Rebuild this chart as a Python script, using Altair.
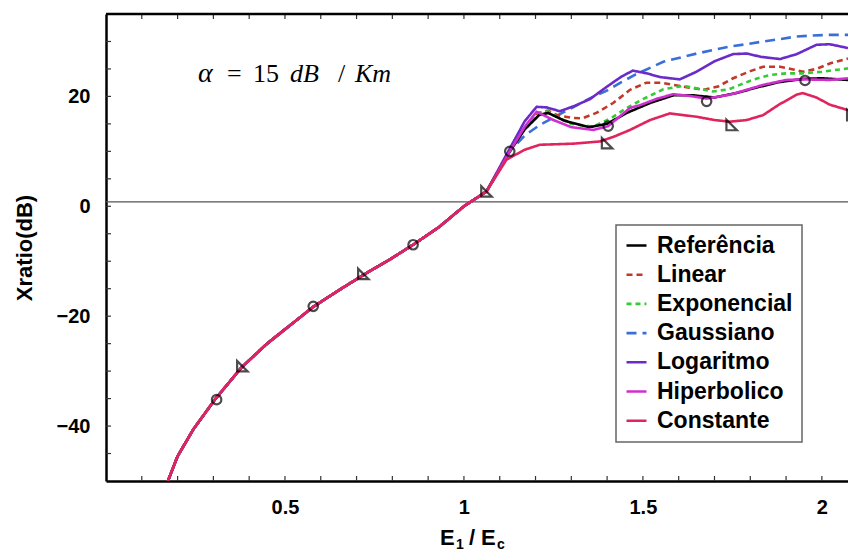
import altair as alt
import pandas as pd

# ---------------- data ----------------
series_names = ["Referência", "Linear", "Exponencial", "Gaussiano",
                "Logaritmo", "Hiperbolico", "Constante"]
series_colors = ["#000000", "#c0392b", "#33cc33", "#3a6fd8",
                 "#6a2bc8", "#d02fd0", "#e0245e"]
series_dash = [[1, 0], [6, 4], [5, 4], [10, 6], [1, 0], [1, 0], [1, 0]]
series_width = [2.6, 2.6, 2.6, 2.6, 2.6, 3.8, 2.6]

# shared lower branch (all curves coincide up to E1/Ec = 1)
common_x = [0.173, 0.2, 0.244, 0.304, 0.379, 0.45, 0.5, 0.579, 0.65,
            0.719, 0.79, 0.858, 0.93, 1.0]
common_y = [-50.0, -45.5, -40.6, -35.2, -29.3, -25.0, -22.4, -18.3, -15.3,
            -12.5, -9.8, -7.0, -3.8, 0.0]

ref_x = [1.063, 1.128, 1.17, 1.21, 1.235, 1.28, 1.35, 1.40, 1.455, 1.52,
         1.585, 1.64, 1.70, 1.76, 1.817, 1.88, 1.95, 2.0, 2.073]
ref_y = [2.7, 10.0, 14.0, 16.6, 17.0, 15.6, 14.4, 15.0, 17.0, 18.8,
         20.2, 20.2, 19.8, 20.6, 21.6, 22.6, 23.2, 23.3, 23.0]

lin_x = [1.063, 1.128, 1.17, 1.21, 1.235, 1.26, 1.30, 1.33, 1.37, 1.417,
         1.464, 1.51, 1.55, 1.585, 1.63, 1.668, 1.71, 1.752, 1.80, 1.836,
         1.883, 1.92, 1.947, 1.985, 2.022, 2.073]
lin_y = [2.7, 10.0, 14.2, 17.0, 17.4, 16.6, 16.1, 16.0, 17.0, 18.8,
         21.2, 22.5, 22.5, 22.1, 21.6, 21.2, 21.8, 23.3, 24.6, 25.4,
         25.4, 24.9, 24.5, 25.0, 26.0, 26.9]

exp_x = [1.063, 1.128, 1.17, 1.21, 1.235, 1.26, 1.30, 1.361, 1.41, 1.455,
         1.50, 1.557, 1.612, 1.65, 1.696, 1.74, 1.771, 1.81, 1.855, 1.90,
         1.947, 2.0, 2.073]
exp_y = [2.7, 10.0, 14.2, 17.0, 17.3, 16.3, 15.0, 14.5, 16.0, 17.9,
         19.5, 21.3, 21.9, 21.5, 20.9, 21.3, 22.1, 23.1, 23.9, 24.2,
         24.2, 24.5, 25.1]

gau_x = [1.063, 1.128, 1.17, 1.212, 1.26, 1.305, 1.35, 1.398, 1.44, 1.48,
         1.52, 1.557, 1.60, 1.65, 1.70, 1.743, 1.79, 1.836, 1.88, 1.929,
         1.975, 2.022, 2.073]
gau_y = [2.7, 10.0, 12.9, 14.8, 16.5, 18.0, 19.6, 21.0, 22.6, 24.0,
         25.2, 26.3, 27.0, 27.8, 28.5, 29.1, 29.5, 30.0, 30.4, 30.9,
         31.1, 31.2, 31.2]

log_x = [1.063, 1.128, 1.17, 1.203, 1.231, 1.268, 1.31, 1.352, 1.40, 1.44,
         1.472, 1.51, 1.55, 1.603, 1.65, 1.70, 1.752, 1.79, 1.83, 1.883,
         1.93, 1.985, 2.022, 2.073]
log_y = [2.7, 10.5, 15.5, 18.1, 18.0, 17.3, 18.3, 19.5, 21.8, 23.6,
         24.7, 24.2, 23.5, 23.1, 24.5, 26.4, 27.7, 27.8, 27.2, 26.8,
         27.7, 29.4, 29.5, 28.8]

hip_x = [1.063, 1.128, 1.17, 1.203, 1.25, 1.30, 1.361, 1.403, 1.464, 1.492,
         1.54, 1.585, 1.63, 1.678, 1.743, 1.80, 1.836, 1.901, 1.947, 2.022,
         2.073]
hip_y = [2.7, 10.0, 14.5, 17.2, 15.7, 14.4, 13.9, 14.6, 17.9, 18.4,
         19.6, 20.4, 20.1, 19.6, 20.3, 21.4, 22.1, 23.0, 23.1, 23.0,
         23.3]

con_x = [1.063, 1.119, 1.17, 1.212, 1.26, 1.305, 1.38, 1.42, 1.464, 1.52,
         1.575, 1.65, 1.70, 1.743, 1.79, 1.836, 1.88, 1.929, 1.947, 1.985,
         2.022, 2.073]
con_y = [2.7, 8.5, 10.3, 11.2, 11.3, 11.4, 11.8, 12.7, 13.9, 15.7,
         16.9, 16.3, 15.7, 15.4, 15.7, 16.6, 18.5, 20.3, 20.6, 19.8,
         18.5, 17.5]

# marker positions
hip_marker_x = [0.309, 0.579, 0.858, 1.128, 1.403, 1.678, 1.953]
hip_marker_y = [-35.2, -18.2, -7.0, 10.0, 14.6, 19.1, 22.9]
con_marker_x = [0.381, 0.719, 1.063, 1.40, 1.748, 2.085]
con_marker_y = [-29.1, -12.3, 2.7, 11.5, 14.8, 16.6]

zero_line = [0.8]

x_ticks = [0.5, 1, 1.5, 2]
y_ticks = [-40, -20, 0, 20]
x_minor = [0.1, 0.2, 0.3, 0.4, 0.5, 0.6, 0.7, 0.8, 0.9, 1.0, 1.1, 1.2, 1.3,
           1.4, 1.5, 1.6, 1.7, 1.8, 1.9, 2.0]
y_minor = [-45, -40, -35, -30, -25, -20, -15, -10, -5, 0, 5, 10, 15, 20,
           25, 30]

# ---------------- build table (drawing order: back to front) ----------------
upper = {
    "Gaussiano": (gau_x, gau_y),
    "Logaritmo": (log_x, log_y),
    "Linear": (lin_x, lin_y),
    "Exponencial": (exp_x, exp_y),
    "Referência": (ref_x, ref_y),
    "Hiperbolico": (hip_x, hip_y),
    "Constante": (con_x, con_y),
}
rows = []
for k, (name, (ux, uy)) in enumerate(upper.items()):
    xs = common_x + ux
    ys = common_y + uy
    for i, (a, b) in enumerate(zip(xs, ys)):
        rows.append({"serie": name, "x": a, "y": b, "z": k, "i": i})
df = pd.DataFrame(rows)

markers = pd.DataFrame(
    [{"x": a, "y": b, "kind": "circle"} for a, b in zip(hip_marker_x, hip_marker_y)]
    + [{"x": a, "y": b, "kind": "tri"} for a, b in zip(con_marker_x, con_marker_y)]
)

FONT = "Liberation Sans"
SERIF = "Liberation Serif"
W, H = 742, 467

xscale = alt.Scale(domain=[0, 2.073], nice=False, zero=False)
yscale = alt.Scale(domain=[-50, 35], nice=False, zero=False)

zero = alt.Chart(pd.DataFrame({"y": zero_line})).mark_rule(
    color="#555555", strokeWidth=1.2
).encode(y=alt.Y("y:Q", scale=yscale))

top_border = alt.Chart(pd.DataFrame({"a": [0]})).mark_rule(
    color="black", strokeWidth=2.5
).encode(x=alt.value(0), x2=alt.value(W), y=alt.value(0))

# inward tick marks
xt = pd.DataFrame({"x": x_minor})
yt = pd.DataFrame({"y": y_minor})
tick_bot = alt.Chart(xt).mark_rule(color="#333333", strokeWidth=1.2).encode(
    x=alt.X("x:Q", scale=xscale), y=alt.value(H), y2=alt.value(H - 5))
tick_top = alt.Chart(xt).mark_rule(color="#333333", strokeWidth=1.2).encode(
    x=alt.X("x:Q", scale=xscale), y=alt.value(0), y2=alt.value(5))
tick_left = alt.Chart(yt).mark_rule(color="#333333", strokeWidth=1.2).encode(
    y=alt.Y("y:Q", scale=yscale), x=alt.value(0), x2=alt.value(5))

lines = alt.Chart(df).mark_line(clip=True).encode(
    x=alt.X("x:Q", scale=xscale,
            axis=alt.Axis(values=x_ticks, format="~g", title=None,
                          grid=False, ticks=False, domainColor="black",
                          domainWidth=2.5, labelFont=FONT, labelFontSize=20,
                          labelFontWeight="bold", labelColor="black",
                          labelPadding=16)),
    y=alt.Y("y:Q", scale=yscale,
            axis=alt.Axis(values=y_ticks, title="Xratio(dB)", grid=False,
                          ticks=False, domainColor="black", domainWidth=2.5,
                          labelFont=FONT, labelFontSize=20,
                          labelFontWeight="bold", labelColor="black",
                          labelPadding=16, titleFont=FONT, titleFontSize=22,
                          titleFontWeight="bold", titleColor="black",
                          titlePadding=20)),
    color=alt.Color("serie:N",
                    scale=alt.Scale(domain=series_names, range=series_colors),
                    legend=alt.Legend(title=None)),
    strokeDash=alt.StrokeDash("serie:N",
                              scale=alt.Scale(domain=series_names, range=series_dash),
                              legend=alt.Legend(title=None)),
    strokeWidth=alt.StrokeWidth("serie:N",
                                scale=alt.Scale(domain=series_names, range=series_width),
                                legend=None),
    detail="z:O",
    order="i:Q",
)

circ = alt.Chart(markers).transform_filter(alt.datum.kind == "circle").mark_point(
    shape="circle", filled=False, color="black", size=90, strokeWidth=2.2, clip=True
).encode(x=alt.X("x:Q", scale=xscale), y=alt.Y("y:Q", scale=yscale))

tri = alt.Chart(markers).transform_filter(alt.datum.kind == "tri").mark_point(
    shape="M -1 -1 L -1 1 L 1 1 Z", filled=False, color="black", size=110,
    strokeWidth=2.2, clip=True
).encode(x=alt.X("x:Q", scale=xscale), y=alt.Y("y:Q", scale=yscale))

# x-axis title E1/Ec with subscripts
def txt(s, x, y, size, style="normal", font=FONT, weight="bold"):
    return alt.Chart(pd.DataFrame({"a": [0]})).mark_text(
        text=s, align="left", baseline="alphabetic", fontSize=size,
        font=font, fontWeight=weight, fontStyle=style, color="black"
    ).encode(x=alt.value(x), y=alt.value(y))

xtitle = (txt("E", 334, 531, 22) + txt("1", 350, 535, 14)
          + txt("/", 363, 531, 22) + txt("E", 375, 531, 22)
          + txt("c", 391, 535, 14))

alpha = (txt("α", 92, 68, 28, "italic", SERIF, "normal")
         + txt("=", 121, 68, 26, "normal", SERIF, "normal")
         + txt("15", 147, 68, 26, "normal", SERIF, "normal")
         + txt("dB", 184, 68, 26, "italic", SERIF, "normal")
         + txt("/", 232, 68, 26, "normal", SERIF, "normal")
         + txt("Km", 249, 68, 26, "italic", SERIF, "normal"))

chart = alt.layer(zero, tick_bot, tick_top, tick_left, lines, circ, tri,
                  top_border, xtitle, alpha).properties(
    width=W, height=H,
    autosize=alt.AutoSizeParams(type="none"),
    padding={"left": 106, "top": 14, "right": 0, "bottom": 72},
    background="white",
).configure_view(stroke=None).configure_legend(
    orient="none", legendX=510, legendY=211,
    strokeColor="#666666", strokeWidth=1.5, fillColor="white",
    padding=9, symbolType="stroke", symbolSize=400, symbolStrokeWidth=2.6,
    labelFont=FONT, labelFontSize=23, labelFontWeight="bold",
    labelColor="black", rowPadding=5.2, labelOffset=9, labelLimit=300,
)

chart.save("out.html", embed_options={"renderer": "svg", "actions": False})
